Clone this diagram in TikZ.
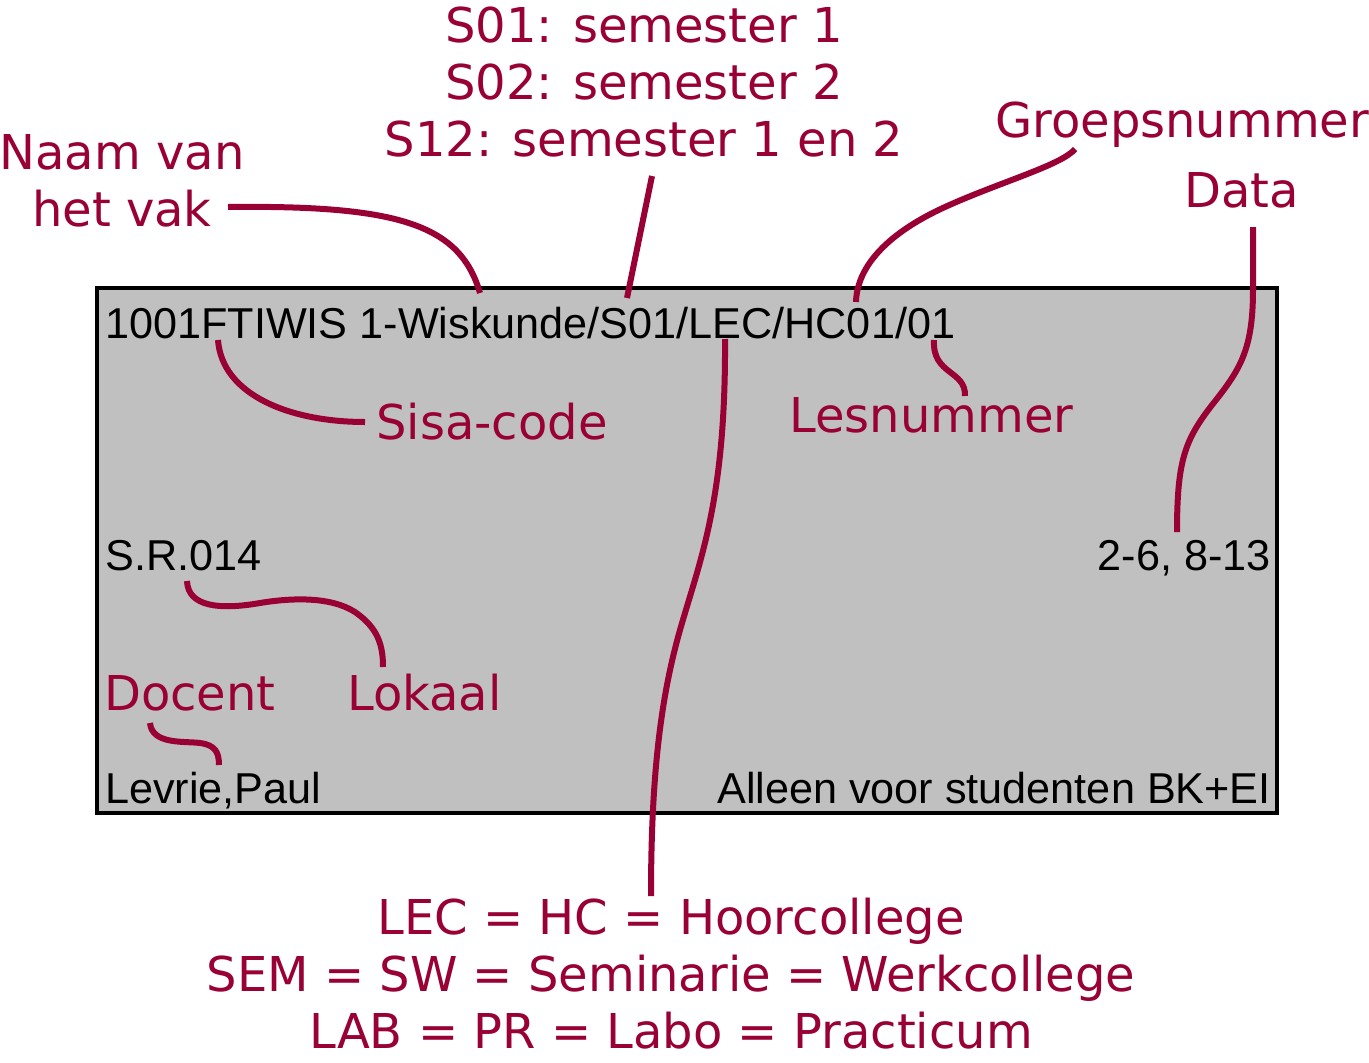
\documentclass[tikz,border=0pt]{standalone}
\usepackage{fontspec}
\newfontfamily\redfont{DejaVu Sans}
\newfontfamily\blackfont{Liberation Sans}
\definecolor{wine}{HTML}{990033}
\definecolor{cardgray}{HTML}{C0C0C0}
\tikzset{
  lbl/.style={inner sep=0pt, text=wine, font=\redfont\fontsize{48}{57}\selectfont},
  card/.style={inner sep=0pt, text=black, font=\blackfont\fontsize{43.2}{50}\selectfont},
  conn/.style={draw=wine, line width=6pt, line cap=butt},
}
\begin{document}
\begin{tikzpicture}[x=1pt,y=-1pt]
\useasboundingbox (0,0) rectangle (1369,1063);
% card
\draw[fill=cardgray, line width=4pt] (97,288) rectangle (1277,813);
% card texts
\node[card, anchor=base west] (code) at (105,338) {1001FTIWIS 1-Wiskunde/S01/LEC/HC01/01};
\node[card, anchor=base west] (room) at (105,570) {S.R.014};
\node[card, anchor=base east] (dates) at (1271,570) {2-6, 8-13};
\node[card, anchor=base west] (teacher) at (105,803) {Levrie,Paul};
\node[card, anchor=base east] (note) at (1271,803) {Alleen voor studenten BK+EI};
% labels (base anchor = baseline of last line)
\node[lbl, align=center, anchor=base] (naam) at (122,226) {Naam van\\het vak};
\node[lbl, align=center, anchor=base] (sem) at (644,156) {S01: semester 1\\S02: semester 2\\S12: semester 1 en 2};
\node[lbl, anchor=base west] (groep) at (995,137) {Groepsnummer};
\node[lbl, anchor=base west] (data) at (1184,207) {Data};
\node[lbl, anchor=base west] (sisa) at (376,439) {Sisa-code};
\node[lbl, anchor=base west] (les) at (789,432) {Lesnummer};
\node[lbl, anchor=base west] (docent) at (104,710) {Docent};
\node[lbl, anchor=base west] (lokaal) at (347,710) {Lokaal};
\node[lbl, align=center, anchor=base] (types) at (671,1048) {LEC = HC = Hoorcollege\\SEM = SW = Seminarie = Werkcollege\\LAB = PR = Labo = Practicum};
% connector end points
\coordinate (naamA) at (228,207);   \coordinate (naamB) at (480,293);
\coordinate (semA) at (652,176);    \coordinate (semB) at (627,298);
\coordinate (groepA) at (1075,149); \coordinate (groepM) at (945,207); \coordinate (groepB) at (856,302);
\coordinate (dataA) at (1253,227);  \coordinate (dataM) at (1212,405); \coordinate (dataB) at (1177,532);
\coordinate (lesA) at (934,340);    \coordinate (lesB) at (965,396);
\coordinate (sisaA) at (218,340);   \coordinate (sisaB) at (365,422);
\coordinate (lokA) at (187,581);    \coordinate (lokM1) at (260,603); \coordinate (lokM2) at (355,612); \coordinate (lokB) at (383,667);
\coordinate (docA) at (150,723);    \coordinate (docM) at (200,743); \coordinate (docB) at (219,765);
\coordinate (typA) at (725,339);    \coordinate (typM) at (680,630); \coordinate (typB) at (651,896);
% connectors
\draw[conn] (naamA) .. controls (400,205) and (460,225) .. (naamB);
\draw[conn] (semA) -- (semB);
\draw[conn] (groepA) .. controls (1062,165) and (1000,182) .. (groepM) .. controls (890,232) and (857,265) .. (groepB);
\draw[conn] (dataA) -- (1253,290) .. controls (1253,350) and (1240,370) .. (dataM) .. controls (1185,440) and (1177,460) .. (dataB);
\draw[conn] (lesA) .. controls (932,375) and (966,370) .. (lesB);
\draw[conn] (sisaA) .. controls (222,395) and (290,422) .. (sisaB);
\draw[conn] (lokA) .. controls (188,607) and (220,610) .. (lokM1) .. controls (290,598) and (330,596) .. (lokM2) .. controls (378,628) and (383,645) .. (lokB);
\draw[conn] (docA) .. controls (152,745) and (185,741) .. (docM) .. controls (215,745) and (219,752) .. (docB);
\draw[conn] (typA) .. controls (726,500) and (700,560) .. (typM) .. controls (660,700) and (651,780) .. (typB);
\end{tikzpicture}
\end{document}
